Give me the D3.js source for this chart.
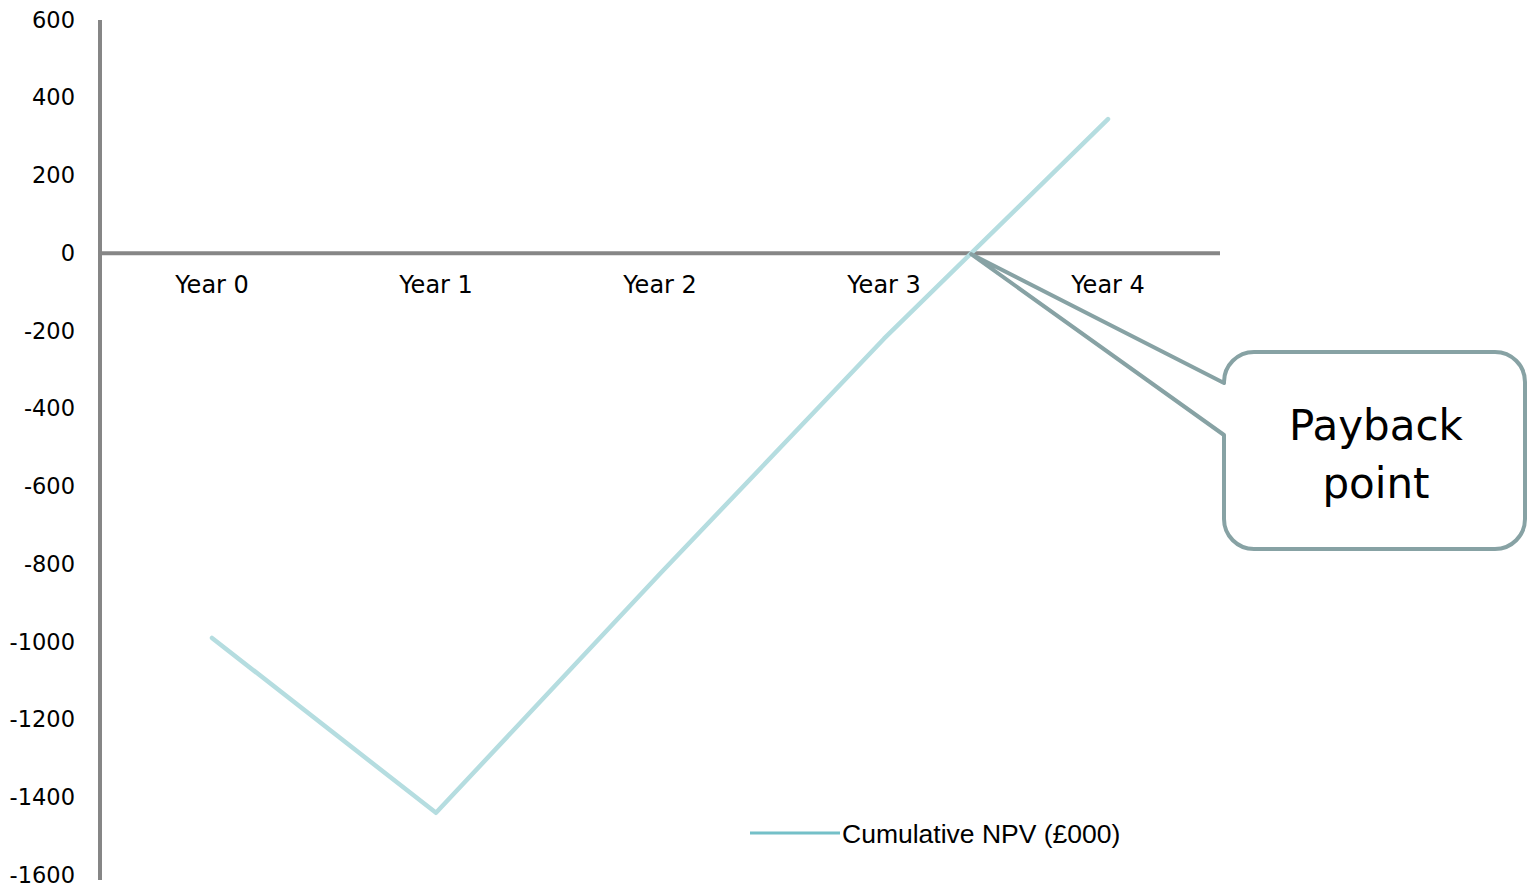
<!DOCTYPE html>
<html>
<head>
<meta charset="utf-8">
<script src="https://cdn.jsdelivr.net/npm/d3@7"></script>
<style>
  html, body { margin: 0; padding: 0; background: #fff; }
  svg { display: block; }
</style>
</head>
<body>
<svg id="chart" width="1529" height="888"></svg>
<script>
const categories = ["Year 0", "Year 1", "Year 2", "Year 3", "Year 4"];
const npvValues = [-990, -1440, -825, -220, 345];
const yTicks = [600, 400, 200, 0, -200, -400, -600, -800, -1000, -1200, -1400, -1600];
const seriesName = "Cumulative NPV (£000)";
const calloutLines = ["Payback", "point"];

const svg = d3.select("#chart");
const x = d3.scaleBand().domain(categories).range([100, 1220]).padding(0);
const y = d3.scaleLinear().domain([-1600, 600]).range([875, 20]);

const axisColor = "#868686";
const tickFont = "'DejaVu Sans', sans-serif";

// Y axis
const yAxis = d3.axisLeft(y).tickValues(yTicks).tickSize(0).tickPadding(25).tickFormat(d => String(d));
const gy = svg.append("g").attr("transform", "translate(100,0)").call(yAxis);
gy.select(".domain").remove();
gy.selectAll("text").attr("font-family", tickFont).attr("font-size", 22.5).attr("fill", "#000");
svg.append("line").attr("x1", 100).attr("x2", 100).attr("y1", 20).attr("y2", 880)
  .attr("stroke", axisColor).attr("stroke-width", 4);

// X axis (at zero)
const xAxis = d3.axisBottom(x).tickSize(0).tickPadding(23);
const gx = svg.append("g").attr("transform", `translate(0,${y(0)})`).call(xAxis);
gx.select(".domain").remove();
gx.selectAll("text").attr("font-family", tickFont).attr("font-size", 24).attr("fill", "#000");
svg.append("line").attr("x1", 100).attr("x2", 1220).attr("y1", y(0)).attr("y2", y(0))
  .attr("stroke", axisColor).attr("stroke-width", 4);

// Series line
const line = d3.line().x((d, i) => x(categories[i]) + x.bandwidth() / 2).y(d => y(d));
svg.append("path").datum(npvValues).attr("d", line)
  .attr("fill", "none").attr("stroke", "#b5dde0").attr("stroke-width", 4.5)
  .attr("stroke-linecap", "round").attr("stroke-linejoin", "round");

// Callout (payback point: zero crossing between Year 3 and Year 4)
const i3 = 3, i4 = 4;
const frac = (0 - npvValues[i3]) / (npvValues[i4] - npvValues[i3]);
const tipX = x(categories[i3]) + x.bandwidth() / 2 + frac * x.bandwidth();
const tipY = y(0);
const bx = 1224, by = 352, bw = 301, bh = 197, r = 30;
const w1 = 383, w2 = 435;
const p = d3.path();
p.moveTo(bx + r, by);
p.lineTo(bx + bw - r, by);
p.arcTo(bx + bw, by, bx + bw, by + r, r);
p.lineTo(bx + bw, by + bh - r);
p.arcTo(bx + bw, by + bh, bx + bw - r, by + bh, r);
p.lineTo(bx + r, by + bh);
p.arcTo(bx, by + bh, bx, by + bh - r, r);
p.lineTo(bx, w2);
p.lineTo(tipX, tipY + 1);
p.lineTo(bx, w1);
p.lineTo(bx, by + r);
p.arcTo(bx, by, bx + r, by, r);
p.closePath();
svg.append("path").attr("d", p.toString())
  .attr("fill", "#fff").attr("stroke", "#87a2a4").attr("stroke-width", 4)
  .attr("stroke-linejoin", "round");
svg.append("text").attr("x", 1376).attr("font-family", tickFont).attr("font-size", 42)
  .attr("text-anchor", "middle").attr("fill", "#000")
  .selectAll("tspan").data(calloutLines).join("tspan")
  .attr("x", 1376).attr("y", (d, i) => 440 + i * 58).text(d => d);

// Legend
svg.append("line").attr("x1", 750).attr("x2", 840).attr("y1", 833).attr("y2", 833)
  .attr("stroke", "#74c0c8").attr("stroke-width", 3);
svg.append("text").attr("x", 842).attr("y", 843).attr("font-family", "'Liberation Sans', Arial, sans-serif")
  .attr("font-size", 26.5).attr("fill", "#000").text(seriesName);
</script>
</body>
</html>
